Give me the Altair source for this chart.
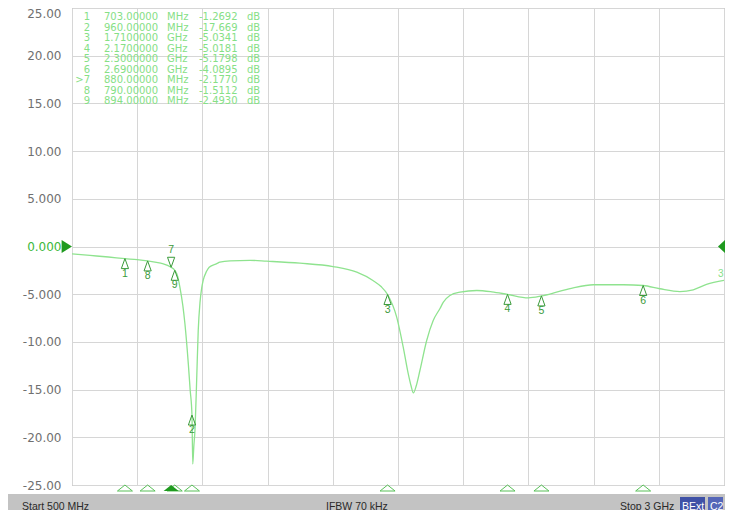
import altair as alt
import pandas as pd

# ---- trace (S11, dB) ----
freq_mhz = [500, 569, 640, 703, 750, 790, 840, 880, 894, 905, 914, 925, 933, 946, 953,
            960, 963, 967, 972, 978, 984, 991, 997, 1003, 1016, 1026, 1055, 1067, 1106,
            1182, 1247, 1374, 1501, 1592, 1654, 1685, 1710, 1745, 1770, 1789, 1800, 1809,
            1820, 1834, 1860, 1885, 1911, 1924, 1949, 1988, 2052, 2110, 2170, 2250, 2300,
            2358, 2422, 2499, 2614, 2690, 2754, 2831, 2882, 2933, 3000]
s11_db = [-0.78, -0.94, -1.10, -1.27, -1.38, -1.51, -1.75, -2.18, -2.49, -3.10, -4.30,
          -6.20, -8.10, -12.30, -15.00, -17.67, -22.80, -21.00, -19.00, -14.00, -8.80,
          -5.80, -4.40, -3.56, -2.60, -2.17, -1.80, -1.65, -1.50, -1.45, -1.54, -1.75,
          -2.10, -2.69, -3.56, -4.20, -5.03, -7.41, -10.55, -13.30, -14.60, -15.35,
          -14.60, -13.00, -9.85, -7.76, -6.50, -5.84, -5.14, -4.79, -4.61, -4.75, -5.02,
          -5.38, -5.18, -4.79, -4.33, -4.01, -4.01, -4.09, -4.43, -4.72, -4.54, -3.98,
          -3.56]

# ---- markers ----
marker_ids = ["1", "2", "3", "4", "5", "6", "7", "8", "9"]
marker_freq_mhz = [703, 960, 1710, 2170, 2300, 2690, 880, 790, 894]
marker_db = [-1.2692, -17.669, -5.0341, -5.0181, -5.1798, -4.0895, -2.1770, -1.5112, -2.4930]
active_marker = "7"

# ---- axes / status bar ----
y_ticks = list(range(-25, 26, 5))
x_grid = list(range(500, 3001, 250))
x_start, x_stop = 500, 3000
status_left = "Start 500 MHz"
status_mid = "IFBW 70 kHz"
status_right = "Stop 3 GHz"

W, H = 652, 477
GRID = "#d6d6d6"
TRACE = "#8fe38f"
MK = "#3a9a3a"
TABLE = "#86e086"

trace_df = pd.DataFrame({"f": freq_mhz, "db": s11_db})
mk_df = pd.DataFrame({"id": marker_ids, "f": marker_freq_mhz, "db": marker_db})
mk_df["active"] = mk_df["id"] == active_marker


def fmt_freq(f):
    return (f"{f:.5f}", "MHz") if f < 1000 else (f"{f / 1000:.7f}", "GHz")


def fmt_db(v):
    return f"{v:.3f}" if abs(v) >= 10 else f"{v:.4f}"


col_id = [(">" if i == active_marker else "") + i for i in marker_ids]
col_f = [fmt_freq(f)[0] for f in marker_freq_mhz]
col_u = [fmt_freq(f)[1] for f in marker_freq_mhz]
col_v = [fmt_db(v) for v in marker_db]
col_db = ["dB"] * len(marker_ids)

xs = alt.Scale(domain=[x_start, x_stop], nice=False, zero=False)
ys = alt.Scale(domain=[-25, 25], nice=False, zero=False)

label_expr = ("replace(abs(datum.value) >= 10 ? format(datum.value, '.2f') : "
              "format(datum.value, '.3f'), '\u2212', '-')")

trace = alt.Chart(trace_df).mark_line(
    color=TRACE, strokeWidth=1.3, interpolate="monotone", clip=True
).encode(
    x=alt.X("f:Q", scale=xs, axis=alt.Axis(
        values=x_grid, grid=True, gridColor=GRID, labels=False, ticks=False,
        domain=False, title=None)),
    y=alt.Y("db:Q", scale=ys, axis=alt.Axis(
        values=y_ticks, grid=True, gridColor=GRID, ticks=False, domain=False,
        title=None, labelExpr=label_expr, labelFont="DejaVu Sans", labelFontSize=12,
        labelPadding=11,
        labelColor={"condition": {"test": "datum.value == 0", "value": "#3cb83c"},
                    "value": "#707070"},
        labelBaseline={"condition": {"test": "datum.value == 25", "value": "top"},
                       "value": "middle"})),
)

one = pd.DataFrame({"k": [0]})


def table_col(lines, x, align):
    return alt.Chart(one).mark_text(
        text=lines, align=align, baseline="alphabetic", lineHeight=10.5,
        font="DejaVu Sans", fontSize=10, color=TABLE
    ).encode(x=alt.value(x), y=alt.value(12))


table = (table_col(col_id, 18, "right") + table_col(col_f, 32, "left") +
         table_col(col_u, 95, "left") + table_col(col_v, 127, "left") +
         table_col(col_db, 175, "left"))

UP = "M0,0L-0.36,1L0.36,1Z"
DOWN = "M0,0L-0.36,-1L0.36,-1Z"

base_mk = alt.Chart(mk_df).encode(x=alt.X("f:Q", scale=xs), y=alt.Y("db:Q", scale=ys))
mk_up = base_mk.transform_filter("!datum.active").mark_point(
    shape=UP, size=400, filled=False, color=MK, strokeWidth=1, opacity=1)
mk_down = base_mk.transform_filter("datum.active").mark_point(
    shape=DOWN, size=400, filled=False, color=MK, strokeWidth=1, opacity=1)
lab_up = base_mk.transform_filter("!datum.active").mark_text(
    dy=15, font="Liberation Sans", fontSize=10.5, color=MK).encode(text="id:N")
lab_down = base_mk.transform_filter("datum.active").mark_text(
    dy=-17, font="Liberation Sans", fontSize=10.5, color=MK).encode(text="id:N")

BOT = "M0,-0.4L-1,0.4L1,0.4Z"
bot_open = alt.Chart(mk_df).transform_filter("!datum.active").mark_point(
    shape=BOT, size=225, filled=False, color="#58c058", strokeWidth=1, opacity=1
).encode(x=alt.X("f:Q", scale=xs), y=alt.value(H + 3))
bot_fill = alt.Chart(mk_df).transform_filter("datum.active").mark_point(
    shape=BOT, size=225, filled=True, color="#1f9a1f", opacity=1
).encode(x=alt.X("f:Q", scale=xs), y=alt.value(H + 3))

ref_df = pd.DataFrame({"db": [0]})
ref_left = alt.Chart(ref_df).mark_point(
    shape="M-0.8,-1L0.8,0L-0.8,1Z", size=169, filled=True, color="#1f9a1f", opacity=1
).encode(x=alt.value(-5.2), y=alt.Y("db:Q", scale=ys))
ref_right = alt.Chart(ref_df).mark_point(
    shape="M0.54,-1L-0.54,0L0.54,1Z", size=169, filled=True, color="#1f9a1f", opacity=1
).encode(x=alt.value(W - 2.5), y=alt.Y("db:Q", scale=ys))

end_df = trace_df.tail(1)
end_lab = alt.Chart(end_df).mark_text(
    text="3", align="left", dy=-6, font="Liberation Sans", fontSize=10, color=TABLE
).encode(x=alt.value(W - 6), y=alt.Y("db:Q", scale=ys))

bar = alt.Chart(one).mark_rect(color="#c3c3c3").encode(
    x=alt.value(-64), x2=alt.value(W + 1), y=alt.value(H + 9), y2=alt.value(H + 25))
box1 = alt.Chart(one).mark_rect(color="#3f51a6").encode(
    x=alt.value(608), x2=alt.value(633), y=alt.value(H + 12), y2=alt.value(H + 25))
box2 = alt.Chart(one).mark_rect(color="#5566b8").encode(
    x=alt.value(636), x2=alt.value(651), y=alt.value(H + 12), y2=alt.value(H + 25))


def status(txt, x, color="#2a2a2a"):
    return alt.Chart(one).mark_text(
        text=txt, align="left", baseline="alphabetic", font="Liberation Sans",
        fontSize=10.5, color=color).encode(x=alt.value(x), y=alt.value(H + 24.5))


bar_texts = (status(status_left, -50) + status(status_mid, 254) +
             status(status_right, 548) + status("BExt", 610, "#ffffff") +
             status("C2", 638, "#ffffff"))

chart = alt.layer(
    trace, table, mk_up, mk_down, lab_up, lab_down, end_lab,
    bar, box1, box2, bar_texts, bot_open, bot_fill, ref_left, ref_right
).properties(
    width=W, height=H, background="white",
    padding={"left": 64, "top": 0, "right": 1, "bottom": 25},
    autosize=alt.AutoSizeParams(type="none"),
).configure_view(stroke="#9a9a9a", strokeWidth=1)

chart.save("out.html", embed_options={"renderer": "svg", "actions": False})
